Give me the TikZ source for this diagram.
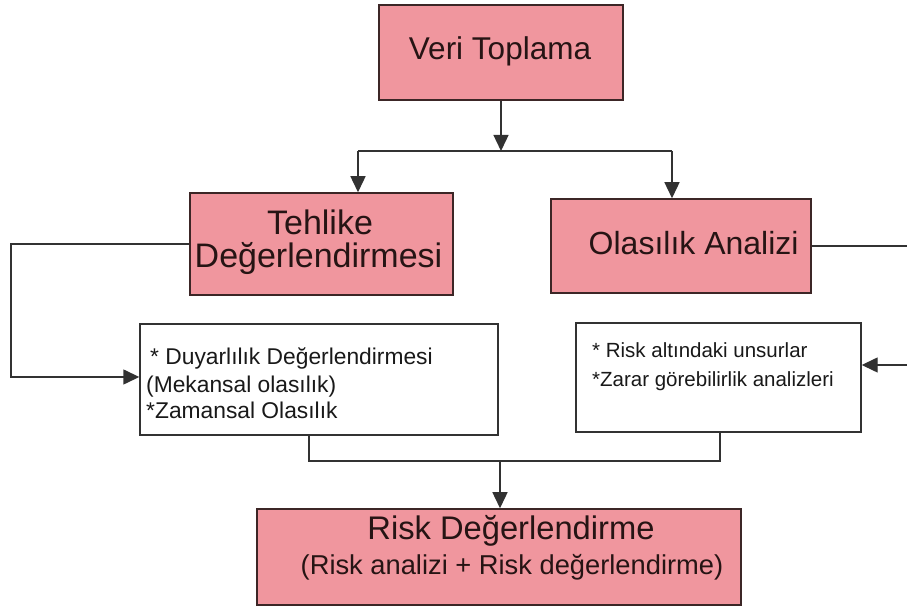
\documentclass[tikz,border=0pt]{standalone}
\usepackage{fontspec}
\setmainfont{Liberation Sans}
\usetikzlibrary{arrows.meta}
\definecolor{boxpink}{RGB}{240,150,158}
\definecolor{boxedge}{RGB}{60,38,38}
\definecolor{inkdark}{RGB}{38,20,20}
\definecolor{wireline}{RGB}{50,50,50}
\newcommand{\fs}[1]{\fontsize{#1}{#1}\selectfont}
\tikzset{
  pinkbox/.style={draw=boxedge, fill=boxpink, line width=1.5pt, inner sep=0pt},
  whitebox/.style={draw=wireline, fill=white, line width=1.4pt, inner sep=0pt},
  txt/.style={inner sep=0pt, anchor=base, text=inkdark},
  txtl/.style={inner sep=0pt, anchor=base west, text=black!90},
  wire/.style={draw=wireline, line width=1.4pt},
  arr/.style={wire, -{Triangle[length=16pt, width=15pt]}},
}
\begin{document}
\begin{tikzpicture}[x=1pt, y=1pt]
\useasboundingbox (0,0) rectangle (907,610);

% boxes
\node[pinkbox, minimum width=244pt, minimum height=95pt] (veri) at (501,557.5) {};
\node[pinkbox, minimum width=263pt, minimum height=102pt] (tehlike) at (321.5,366) {};
\node[pinkbox, minimum width=260pt, minimum height=94pt] (olasilik) at (681,364) {};
\node[whitebox, minimum width=358pt, minimum height=111pt] (duyar) at (319,230.5) {};
\node[whitebox, minimum width=285pt, minimum height=109pt] (unsur) at (718.5,232.5) {};
\node[pinkbox, minimum width=484pt, minimum height=96pt] (riskdeg) at (499,53) {};

% box texts
\node[txt] (veriT) at (500,550) {\fs{31.5}Veri Toplama};
\node[txt] (tehlikeA) at (320,375) {\fs{34}Tehlike};
\node[txt] (tehlikeB) at (318.5,342) {\fs{34}Değerlendirmesi};
\node[txt, anchor=base west] (olasilikT) at (588.5,355) {\fs{32}Olasılık Analizi};
\node[txtl] (duyarA) at (150,245) {\fs{22.8}* Duyarlılık Değerlendirmesi};
\node[txtl] (duyarB) at (146,217) {\fs{22.8}(Mekansal olasılık)};
\node[txtl] (duyarC) at (146,191) {\fs{22.8}*Zamansal Olasılık};
\node[txtl] (unsurA) at (592,252) {\fs{20.5}* Risk altındaki unsurlar};
\node[txtl] (unsurB) at (592,223) {\fs{20.5}*Zarar görebilirlik analizleri};
\node[txt] (riskA) at (511,70) {\fs{32.7}Risk Değerlendirme};
\node[txt] (riskB) at (512,35) {\fs{27.3}(Risk analizi + Risk değerlendirme)};

% connectors
\coordinate (splitL) at (358,459);
\coordinate (splitR) at (672,459);
\coordinate (loopL) at (11,300);
\coordinate (loopR) at (912,300);
\coordinate (join) at (500,149);

\draw[arr] (veri.south) -- (veri.south |- splitL);
\draw[wire] (splitL) -- (splitR);
\draw[arr] (splitL) -- (splitL |- tehlike.north);
\draw[arr] (splitR) -- (splitR |- olasilik.north);

\draw[arr] (tehlike.west) -| (loopL) |- ([yshift=2.5pt]duyar.west);
\draw[arr] (olasilik.east) -| (loopR) |- ([yshift=12.5pt]unsur.east);

\draw[wire] ([xshift=-10pt]duyar.south) |- (join) -| ([xshift=1.5pt]unsur.south);
\draw[arr] (join) -- (join |- riskdeg.north);
\end{tikzpicture}
\end{document}
